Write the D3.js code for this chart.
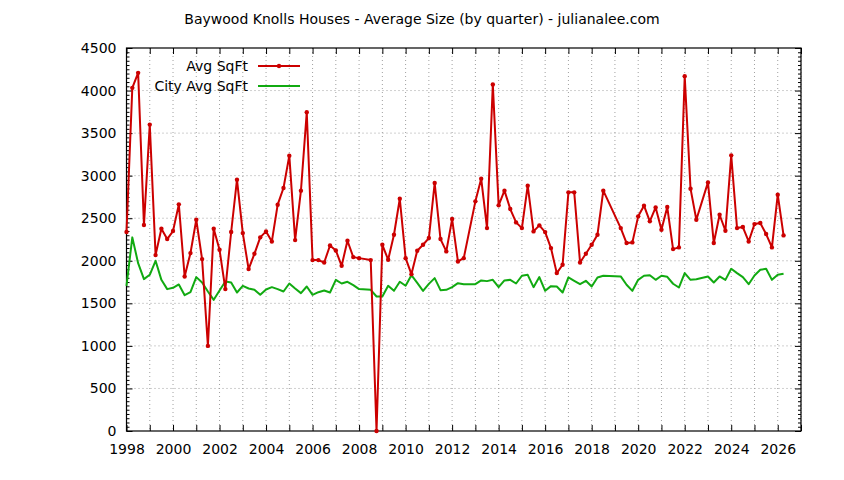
<!DOCTYPE html>
<html>
<head>
<meta charset="utf-8">
<script src="https://cdn.jsdelivr.net/npm/d3@7"></script>
<style>
  body{ margin: 0; background: #fff; }
  svg text{ font-family: 'DejaVu Sans', sans-serif; fill: #000; }
</style>
</head>
<body>
<div id="chart"></div>
<script>

// Quarters as they come out of the sales export (some quarters had no sales).
const quarters = [
  '1998-Q1','1998-Q2','1998-Q3','1998-Q4','1999-Q1','1999-Q2','1999-Q3','1999-Q4',
  '2000-Q1','2000-Q2','2000-Q3','2000-Q4','2001-Q1','2001-Q2','2001-Q3','2001-Q4',
  '2002-Q1','2002-Q2','2002-Q3','2002-Q4','2003-Q1','2003-Q2','2003-Q3','2003-Q4',
  '2004-Q1','2004-Q2','2004-Q3','2004-Q4','2005-Q1','2005-Q2','2005-Q3','2005-Q4',
  '2006-Q1','2006-Q2','2006-Q3','2006-Q4','2007-Q1','2007-Q2','2007-Q3','2007-Q4',
  '2008-Q1','2008-Q3','2008-Q4','2009-Q1','2009-Q2','2009-Q3','2009-Q4',
  '2010-Q1','2010-Q2','2010-Q3','2010-Q4','2011-Q1','2011-Q2','2011-Q3','2011-Q4',
  '2012-Q1','2012-Q2','2012-Q3','2013-Q1','2013-Q2','2013-Q3','2013-Q4',
  '2014-Q1','2014-Q2','2014-Q3','2014-Q4','2015-Q1','2015-Q2','2015-Q3','2015-Q4',
  '2016-Q1','2016-Q2','2016-Q3','2016-Q4','2017-Q1','2017-Q2','2017-Q3','2017-Q4',
  '2018-Q1','2018-Q2','2018-Q3','2019-Q2','2019-Q3','2019-Q4',
  '2020-Q1','2020-Q2','2020-Q3','2020-Q4','2021-Q1','2021-Q2','2021-Q3','2021-Q4',
  '2022-Q1','2022-Q2','2022-Q3','2023-Q1','2023-Q2','2023-Q3','2023-Q4',
  '2024-Q1','2024-Q2','2024-Q3','2024-Q4','2025-Q1','2025-Q2','2025-Q3','2025-Q4',
  '2026-Q1','2026-Q2'
];

const avg_sqft = [
  2338,4032,4208,2420,3600,2067,2376,2255,
  2349,2663,1815,2090,2482,2020,1000,2376,
  2129,1667,2338,2953,2325,1902,2082,2275,
  2345,2227,2659,2855,3235,2243,2824,3745,
  2008,2008,1980,2180,2121,1941,2235,2043,
  2031,2008,0,2188,2012,2306,2729,
  2031,1843,2118,2188,2267,2914,2255,2110,
  2490,1992,2031,2698,2965,2384,4071,
  2651,2824,2608,2451,2384,2882,2345,2416,
  2337,2149,1855,1953,2804,2804,1980,2082,
  2188,2306,2824,2384,2208,2216,
  2522,2647,2463,2627,2365,2631,2137,2157,
  4169,2847,2482,2921,2208,2541,2353,
  3239,2384,2396,2227,2431,2443,2314,2157,
  2776,2298
];

const city_avg_sqft = [
  1706,2275,1972,1784,1835,2000,1776,1667,
  1682,1722,1596,1631,1808,1745,1639,1541,
  1651,1757,1745,1627,1706,1674,1659,1600,
  1663,1690,1667,1639,1733,1674,1620,1698,
  1600,1631,1651,1627,1776,1733,1753,1714,
  1667,1659,1580,1580,1706,1647,1753,
  1706,1831,1740,1647,1729,1796,1655,1659,
  1690,1737,1725,1725,1769,1761,1776,
  1690,1769,1776,1733,1824,1835,1690,1808,
  1647,1702,1698,1627,1804,1765,1725,1765,
  1698,1804,1824,1816,1718,1647,
  1776,1824,1831,1776,1824,1812,1730,1686,
  1855,1776,1784,1816,1745,1816,1776,
  1906,1855,1808,1725,1827,1894,1906,1776,
  1835,1847
];

const x_tick_years = d3.range( 1998, 2028, 1 );
const x_label_years = d3.range( 1998, 2027, 2 );
const y_tick_values = d3.range( 0, 4501, 500 );

const series_names = [ 'Avg SqFt', 'City Avg SqFt' ];
const series_colors = [ '#cc0000', '#11aa11' ];


const settings = {
  figure_width: 844,
  figure_height: 480,
  plot_margin: { top: 48, right: 43, bottom: 49, left: 126.5 },
  font_size: 14,
  grid_style: 'stroke:#a0a0a0; stroke-width:1; stroke-dasharray:1,3',
  major_tick: 6,
  minor_tick: 3
};
settings.plot_width = settings.figure_width - settings.plot_margin.left - settings.plot_margin.right;
settings.plot_height = settings.figure_height - settings.plot_margin.top - settings.plot_margin.bottom;

// '2008-Q3' -> 2008.5
function quarter_to_year( q ){
  var parts = q.split( '-Q' );
  return +parts[0] + ( +parts[1] - 1 ) / 4;
}

const rows = quarters.map( function( q, i ){
  return { t: quarter_to_year( q ), avg: avg_sqft[i], city: city_avg_sqft[i] };
});


const svg = d3.select( '#chart' )
  .append( 'svg' )
    .attr( 'width', settings.figure_width )
    .attr( 'height', settings.figure_height );

const plot = svg.append( 'g' )
  .attr( 'transform', 'translate( ' + settings.plot_margin.left + ', ' + settings.plot_margin.top + ' )' );

// Scales.
const x_scale = d3.scaleLinear()
  .domain( [ 1998, 2027 ] )
  .range( [ 0, settings.plot_width ] );
const y_scale = d3.scaleLinear()
  .domain( [ 0, 4500 ] )
  .range( [ settings.plot_height, 0 ] );

// Title.
svg.append( 'text' )
  .attr( 'x', 422 )
  .attr( 'y', 24 )
  .attr( 'text-anchor', 'middle' )
  .style( 'font-size', settings.font_size + 'px' )
  .text( 'Baywood Knolls Houses - Average Size (by quarter) - julianalee.com' );

// Grid lines, dotted, one per year and one per 500 sqft.
plot.append( 'g' )
  .selectAll( 'line' )
  .data( x_tick_years.slice( 1 ) )
  .enter()
  .append( 'line' )
    .attr( 'x1', d => x_scale( d ) )
    .attr( 'x2', d => x_scale( d ) )
    .attr( 'y1', 0 )
    .attr( 'y2', settings.plot_height )
    .attr( 'style', settings.grid_style );
plot.append( 'g' )
  .selectAll( 'line' )
  .data( y_tick_values.slice( 1, -1 ) )
  .enter()
  .append( 'line' )
    .attr( 'x1', 0 )
    .attr( 'x2', settings.plot_width )
    .attr( 'y1', d => y_scale( d ) )
    .attr( 'y2', d => y_scale( d ) )
    .attr( 'style', settings.grid_style );

// Axes: gnuplot style, ticks pointing inward and mirrored on the opposite side.
const minor_y = d3.range( 0, 4501, 50 ).filter( d => d % 500 != 0 );

function draw_y_axis( axis_fn, offset, labels ){
  var g = plot.append( 'g' )
    .attr( 'transform', 'translate( ' + offset + ', 0 )' );
  g.call( axis_fn( y_scale )
    .tickValues( minor_y )
    .tickSize( -settings.minor_tick )
    .tickFormat( '' ) );
  g.select( '.domain' ).remove();
  var g2 = plot.append( 'g' )
    .attr( 'transform', 'translate( ' + offset + ', 0 )' );
  g2.call( axis_fn( y_scale )
    .tickValues( y_tick_values )
    .tickSize( -settings.major_tick )
    .tickPadding( labels ? 10 : 0 )
    .tickFormat( labels ? d3.format( 'd' ) : '' ) );
  g2.select( '.domain' ).remove();
  g2.selectAll( 'text' ).style( 'font-size', settings.font_size + 'px' ).attr( 'fill', '#000' );
}
draw_y_axis( d3.axisLeft, 0, true );
draw_y_axis( d3.axisRight, settings.plot_width, false );

const x_bottom = plot.append( 'g' )
  .attr( 'transform', 'translate( 0, ' + settings.plot_height + ' )' )
  .call( d3.axisBottom( x_scale )
    .tickValues( x_tick_years )
    .tickSize( -settings.major_tick )
    .tickPadding( 13 )
    .tickFormat( d => x_label_years.indexOf( d ) >= 0 ? d : '' ) );
x_bottom.select( '.domain' ).remove();
x_bottom.selectAll( 'text' ).style( 'font-size', settings.font_size + 'px' ).attr( 'fill', '#000' );

const x_top = plot.append( 'g' )
  .call( d3.axisTop( x_scale )
    .tickValues( x_tick_years )
    .tickSize( -settings.major_tick )
    .tickFormat( '' ) );
x_top.select( '.domain' ).remove();

plot.selectAll( '.tick line' ).attr( 'stroke', '#000' );

// Frame.
plot.append( 'rect' )
  .attr( 'width', settings.plot_width )
  .attr( 'height', settings.plot_height )
  .attr( 'fill', 'none' )
  .attr( 'stroke', '#000' )
  .attr( 'stroke-width', 1.2 );

// Lines.
const city_line = d3.line()
  .x( d => x_scale( d.t ) )
  .y( d => y_scale( d.city ) );
const avg_line = d3.line()
  .x( d => x_scale( d.t ) )
  .y( d => y_scale( d.avg ) );

plot.append( 'path' )
  .datum( rows )
  .attr( 'd', city_line )
  .attr( 'fill', 'none' )
  .attr( 'stroke', series_colors[1] )
  .attr( 'stroke-width', 2 )
  .attr( 'stroke-linejoin', 'round' );

plot.append( 'path' )
  .datum( rows )
  .attr( 'd', avg_line )
  .attr( 'fill', 'none' )
  .attr( 'stroke', series_colors[0] )
  .attr( 'stroke-width', 2 )
  .attr( 'stroke-linejoin', 'round' );

plot.append( 'g' )
  .selectAll( 'circle' )
  .data( rows )
  .enter()
  .append( 'circle' )
    .attr( 'cx', d => x_scale( d.t ) )
    .attr( 'cy', d => y_scale( d.avg ) )
    .attr( 'r', 2.2 )
    .attr( 'fill', series_colors[0] );

// Legend, top left inside the frame.
const legend = svg.append( 'g' );
series_names.forEach( function( name, i ){
  var ly = 66 + i * 20;
  legend.append( 'text' )
    .attr( 'x', 248 )
    .attr( 'y', ly )
    .attr( 'dy', '0.35em' )
    .attr( 'text-anchor', 'end' )
    .style( 'font-size', settings.font_size + 'px' )
    .text( name );
  legend.append( 'line' )
    .attr( 'x1', 258 )
    .attr( 'x2', 300 )
    .attr( 'y1', ly )
    .attr( 'y2', ly )
    .attr( 'stroke', series_colors[i] )
    .attr( 'stroke-width', 2 );
  if( i == 0 ){
    legend.append( 'circle' )
      .attr( 'cx', 279 )
      .attr( 'cy', ly )
      .attr( 'r', 2.2 )
      .attr( 'fill', series_colors[i] );
  }
});

</script>
</body>
</html>
